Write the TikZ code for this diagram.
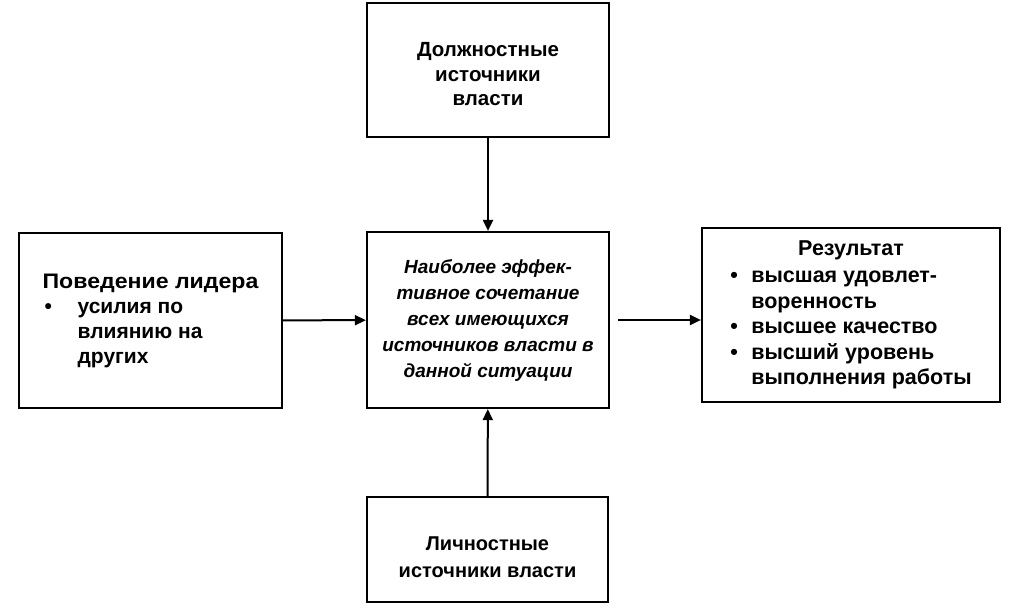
\documentclass[tikz,border=0pt]{standalone}
\usepackage{graphicx}
\usepackage{fontspec}
\setmainfont{Liberation Sans}
\usetikzlibrary{arrows.meta}
\begin{document}
\begin{tikzpicture}[x=1pt,y=-1pt,
  box/.style={draw, line width=2.2pt, inner sep=0pt, align=center,
    font=\bfseries\fontsize{21}{25}\selectfont},
  arr/.style={-{Triangle[length=11pt,width=10pt]}, line width=2pt}]
\useasboundingbox (0,0) rectangle (1009,613);
\node[box, minimum width=242, minimum height=134,
  font=\bfseries\fontsize{20.5}{24.5}\selectfont] (top) at (488,70)
  {\rule{0pt}{23pt}Должностные\\источники\\власти};
\node[box, minimum width=242, minimum height=176,
  font=\bfseries\itshape\fontsize{19}{26}\selectfont] (mid) at (488,320)
  {Наиболее эффек-\\тивное сочетание\\всех имеющихся\\источников власти в\\данной ситуации};
\node[box, minimum width=263, minimum height=175] (left) at (150.5,320.5)
  {\begin{tabular}{@{}p{35pt}@{}l@{}}
   \multicolumn{2}{@{}l@{}}{\scalebox{1.1}[1]{Поведение лидера}}\\
   \hspace*{2pt}• & усилия по\\
   & влиянию на\\
   & других
   \end{tabular}};
\node[box, minimum width=298, minimum height=174,
  font=\bfseries\fontsize{21.5}{25.5}\selectfont] (right) at (851,315)
  {\begin{tabular}{@{}p{21pt}@{}l@{}}
   \multicolumn{2}{@{}c@{}}{Результат}\\[2pt]
   • & высшая удовлет-\\
   & воренность\\
   • & высшее качество\\
   • & высший уровень\\
   & выполнения работы
   \end{tabular}};
\node[box, minimum width=241, minimum height=105,
  font=\bfseries\fontsize{20}{27}\selectfont] (bot) at (487.5,549.5)
  {\rule{0pt}{29pt}Личностные\\источники власти};
\draw[arr] (top) -- (mid);
\draw[arr] (bot) -- (mid);
\draw[arr] (left) -- (mid);
\draw[arr, shorten <=8pt] (mid.east) -- (right.west |- mid.east);
\end{tikzpicture}
\end{document}
